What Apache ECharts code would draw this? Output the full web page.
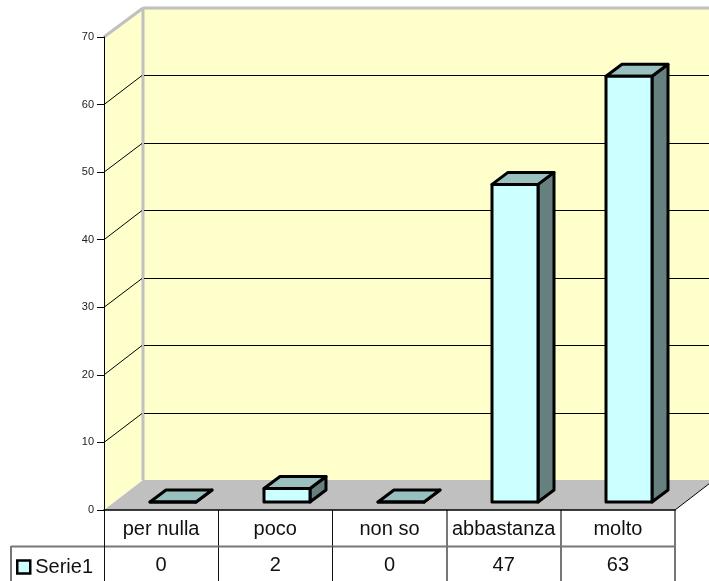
<!DOCTYPE html>
<html>
<head>
<meta charset="utf-8">
<style>html,body{margin:0;padding:0;background:#fff}#c{width:709px;height:581px}</style>
<script src="https://cdn.jsdelivr.net/npm/echarts@6/dist/echarts.min.js"></script>
</head>
<body>
<div id="c"></div>
<script>
const categories = ['per nulla', 'poco', 'non so', 'abbastanza', 'molto'];
const values = [0, 2, 0, 47, 63];
const seriesName = 'Serie1';
const yTicks = [10, 20, 30, 40, 50, 60];
const yMax = 70;

const FONT = '"Liberation Sans", Arial, sans-serif';
const DEPTH = [39, -29];       // wall depth projection
const FLOOR_DY = -30;
const BAR_SHIFT = [12, -8];    // bar front face offset from the front plane
const BAR_DEPTH = [16, -12];   // bar depth projection
const BAR_W = 46;
const ROW1 = 36, ROW2 = 35, TABLE_LEFT = 11;

const chart = echarts.init(document.getElementById('c'), null, {renderer: 'canvas'});

const poly = (points, fill, stroke, lw) => ({
  type: 'polygon', shape: {points},
  style: {fill, stroke: stroke || 'none', lineWidth: lw || 0, lineJoin: 'round'}
});
const line = (x1, y1, x2, y2, stroke, lw) => ({
  type: 'line', shape: {x1, y1, x2, y2},
  style: {stroke, lineWidth: lw || 1}
});

function renderWalls(params, api) {
  const band = api.size([1, 0])[0];
  const x0 = api.coord([0, 0])[0] - band / 2;
  const x1 = api.coord([categories.length - 1, 0])[0] + band / 2;
  const yb = api.coord([0, 0])[1];
  const yt = api.coord([0, yMax])[1];
  const dx = DEPTH[0], dy = DEPTH[1];
  const grey = '#c0c0c0';
  return {type: 'group', children: [
    poly([[x0 + dx, yb + FLOOR_DY], [x1 + dx, yb + FLOOR_DY], [x1 + dx, yt + dy], [x0 + dx, yt + dy]], '#ffffcc'),
    poly([[x0, yb], [x0 + dx, yb + FLOOR_DY], [x0 + dx, yt + dy], [x0, yt]], '#ffffcc'),
    poly([[x0, yb], [x1, yb], [x1 + dx, yb + FLOOR_DY], [x0 + dx, yb + FLOOR_DY]], grey),
    line(x1, yb, x1 + dx, yb + FLOOR_DY, '#000', 1),
    line(x0 + dx, yb + FLOOR_DY, x0 + dx, yt + dy, grey, 3),
    line(x0, yt, x0 + dx, yt + dy, grey, 3),
    line(x0 + dx, yt + dy, x1 + dx, yt + dy, grey, 3)
  ]};
}

function renderGrid(params, api) {
  const band = api.size([1, 0])[0];
  const x0 = api.coord([0, 0])[0] - band / 2;
  const x1 = api.coord([categories.length - 1, 0])[0] + band / 2;
  const y = api.coord([0, api.value(0)])[1];
  const yBack = Math.floor(y + DEPTH[1]) + 0.5;
  return {type: 'group', children: [
    line(x0, y, x0 + DEPTH[0] - 1, yBack, '#000', 1),
    line(x0 + DEPTH[0] + 1, yBack, x1 + DEPTH[0], yBack, '#000', 1)
  ]};
}

function renderBar(params, api) {
  const p = api.coord([api.value(0), api.value(1)]);
  const b = api.coord([api.value(0), 0]);
  const l = Math.floor(p[0] - BAR_W / 2 + BAR_SHIFT[0]), r = l + BAR_W;
  const t = p[1] + BAR_SHIFT[1], bt = b[1] + BAR_SHIFT[1];
  const dx = BAR_DEPTH[0], dy = BAR_DEPTH[1];
  const k = '#000', w = 3;
  return {type: 'group', children: [
    poly([[r, bt], [r + dx, bt + dy], [r + dx, t + dy], [r, t]], '#668080', k, w),
    poly([[l, t], [r, t], [r + dx, t + dy], [l + dx, t + dy]], '#99bfbf', k, w),
    poly([[l, t], [r, t], [r, bt], [l, bt]], '#ccffff', k, w)
  ]};
}

function tableVertical(x, y0, y1) {
  // the first three rulings render dark and thin, the others wider and grey
  return x < 400
    ? line(Math.floor(x) + 0.5, y0, Math.floor(x) + 0.5, y1, '#111', 1)
    : line(Math.round(x), y0, Math.round(x), y1, '#777', 2);
}

function renderTable(params, api) {
  const i = api.value(0);
  const band = api.size([1, 0])[0];
  const c = api.coord([i, 0]);
  const y = c[1];
  const left = c[0] - band / 2, right = c[0] + band / 2;
  const bottom = y + ROW1 + ROW2 + 2;
  const hStart = i === 0 ? TABLE_LEFT : left;
  const ch = [
    line(hStart, y + ROW1 + 0.5, right, y + ROW1 + 0.5, '#777', 2),
    tableVertical(right, y, bottom),
    {type: 'text', x: c[0], y: y + ROW1 + 19,
      style: {text: String(values[i]), fill: '#111', font: '20px ' + FONT, align: 'center', verticalAlign: 'middle'}}
  ];
  if (i === 0) {
    ch.push(tableVertical(left, y, bottom));
    ch.push(line(TABLE_LEFT, y + ROW1, TABLE_LEFT, bottom, '#777', 2));
  }
  return {type: 'group', children: ch};
}

chart.setOption({
  animation: false,
  backgroundColor: '#fff',
  textStyle: {fontFamily: FONT},
  grid: {left: 104, top: 37, width: 571, height: 473, containLabel: false},
  legend: {
    show: true, left: 16, top: 557, orient: 'horizontal', padding: 0,
    data: [{name: seriesName, icon: 'rect'}],
    itemWidth: 13, itemHeight: 13, itemGap: 0,
    selectedMode: false,
    itemStyle: {color: '#ccffff', borderColor: '#000', borderWidth: 2.5},
    textStyle: {fontFamily: FONT, fontSize: 20, color: '#111'}
  },
  xAxis: {
    type: 'category', data: categories, z: 5,
    axisLine: {show: true, lineStyle: {color: '#000', width: 1.5}},
    axisTick: {show: false},
    splitLine: {show: false},
    axisLabel: {interval: 0, margin: 9, fontFamily: FONT, fontSize: 20, color: '#111', hideOverlap: false}
  },
  yAxis: {
    type: 'value', min: 0, max: yMax, interval: 10, z: 5,
    axisLine: {show: true, lineStyle: {color: '#000', width: 1}},
    axisTick: {show: true, length: 7, lineStyle: {color: '#000', width: 1}},
    splitLine: {show: false},
    axisLabel: {margin: 10, fontFamily: FONT, fontSize: 11, color: '#222'}
  },
  series: [
    {type: 'custom', name: 'walls', z: 1, silent: true, clip: false, data: [0], renderItem: renderWalls,
     encode: {x: 0}},
    {type: 'custom', name: 'grid', z: 2, silent: true, clip: false,
     data: yTicks.map(v => [v]), renderItem: renderGrid, encode: {y: 0}},
    {type: 'custom', name: seriesName, z: 3, clip: false,
     itemStyle: {color: '#ccffff', borderColor: '#000', borderWidth: 2},
     data: values.map((v, i) => [i, v]), renderItem: renderBar, encode: {x: 0, y: 1}},
    {type: 'custom', name: 'table', z: 4, silent: true, clip: false,
     data: categories.map((c, i) => [i]), renderItem: renderTable, encode: {x: 0}}
  ]
});
</script>
</body>
</html>
